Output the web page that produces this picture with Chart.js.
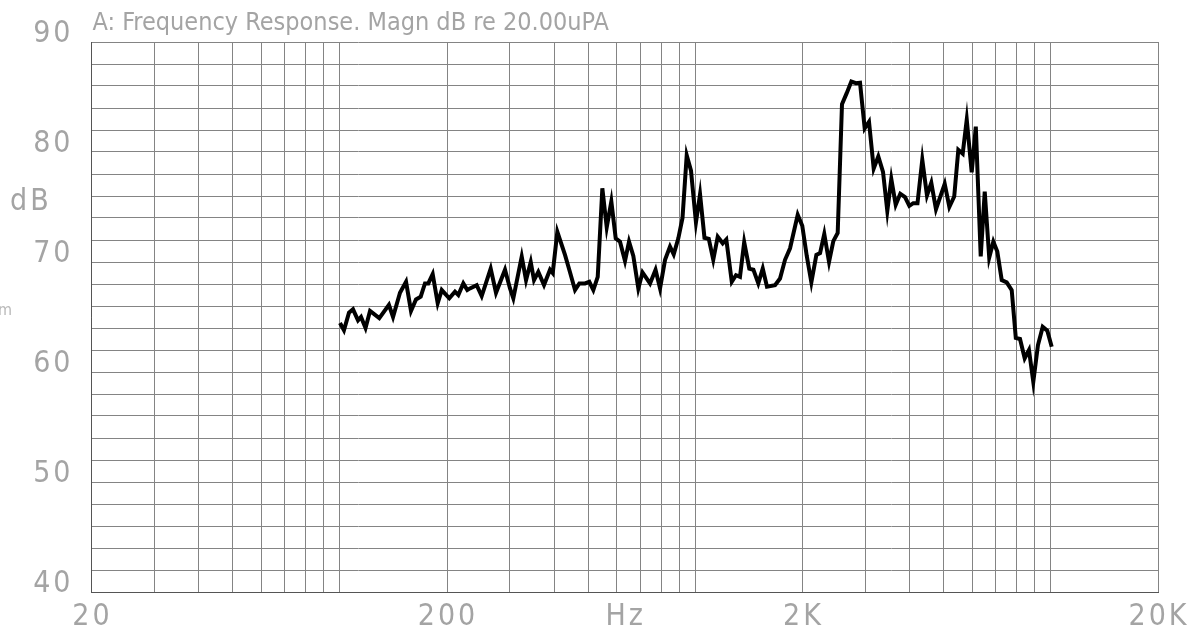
<!DOCTYPE html>
<html>
<head>
<meta charset="utf-8">
<script src="https://cdn.jsdelivr.net/npm/chart.js@4"></script>
<style>
  html, body { margin: 0; padding: 0; background: #fff; }
  canvas { display: block; }
</style>
</head>
<body>
<canvas id="myChart" width="1195" height="633"></canvas>
<script>

//------------------------------------------------------------------
// data (1/24 octave points, 100 Hz .. 10 kHz)

const freqHz = [
    100, 102.6, 106.0, 108.8, 112.4, 114.6, 118.0, 121.5, 129.0, 137.3,
    141.0, 147.5, 153.4, 158.4, 163.6, 168.7, 173.4, 177.2, 182.3, 188.3,
    193.3, 203.0, 210.6, 215.2, 222.3, 228.1, 232.1, 242.4, 250.4, 265.4,
    274.7, 291.2, 300.8, 307.3, 324.5, 333.7, 344.0, 351.4, 361.3, 374.9,
    389.8, 396.7, 408.7, 429.5, 441.6, 458.3, 471.3, 489.0, 502.8, 516.0,
    530.9, 547.0, 562.8, 579.8, 596.5, 613.3, 633.5, 650.2, 668.6, 690.6,
    709.6, 745.0, 772.1, 794.9, 821.1, 847.9, 868.5, 894.8, 919.4, 944.8,
    971.4, 1003, 1030, 1060, 1090, 1122, 1155, 1193, 1221, 1265,
    1300, 1334, 1371, 1417, 1455, 1502, 1546, 1589, 1674, 1729,
    1786, 1845, 1939, 1997, 2056, 2118, 2188, 2241, 2303, 2375,
    2442, 2512, 2583, 2663, 2744, 2828, 2903, 2992, 3077, 3172,
    3268, 3369, 3464, 3555, 3658, 3768, 3885, 3995, 4099, 4212,
    4345, 4479, 4606, 4748, 5024, 5177, 5343, 5487, 5645, 5795,
    5984, 6145, 6344, 6511, 6703, 6884, 7063, 7268, 7507, 7754,
    7962, 8182, 8434, 8672, 8917, 9192, 9478, 9765, 10046
];

const levelDb = [
    64.45, 63.8, 65.4, 65.7, 64.7, 65.0, 64.0, 65.55, 64.9, 66.1,
    65.0, 67.2, 68.2, 65.55, 66.6, 66.85, 68.05, 68.05, 68.9, 66.25,
    67.45, 66.7, 67.3, 67.0, 68.05, 67.45, 67.6, 67.9, 66.9, 69.4,
    67.2, 69.3, 67.6, 66.7, 70.5, 68.35, 70.0, 68.35, 69.1, 67.9,
    69.3, 69.0, 72.75, 70.65, 69.3, 67.45, 68.05, 68.05, 68.2, 67.45,
    68.65, 76.7, 73.15, 75.5, 72.15, 71.85, 70.1, 71.85, 70.55, 67.6,
    69.05, 68.05, 69.3, 67.6, 70.2, 71.4, 70.7, 72.15, 74.0, 79.7,
    78.3, 73.6, 76.15, 72.2, 72.1, 70.2, 72.3, 71.7, 72.05, 68.2,
    68.8, 68.65, 71.8, 69.4, 69.3, 68.05, 69.4, 67.75, 67.9, 68.5,
    70.2, 71.25, 74.3, 73.3, 70.55, 68.15, 70.65, 70.8, 72.55, 70.0,
    71.9, 72.65, 84.35, 85.35, 86.4, 86.25, 86.3, 82.15, 82.75, 78.5,
    79.6, 78.2, 74.65, 77.55, 75.2, 76.2, 75.9, 75.1, 75.35, 75.35,
    79.3, 76.05, 77.2, 74.8, 77.1, 75.0, 75.95, 80.2, 79.85, 82.95,
    78.15, 82.3, 70.5, 76.4, 70.4, 71.85, 70.95, 68.35, 68.15, 67.45,
    63.1, 63.0, 61.25, 62.0, 59.1, 62.45, 64.1, 63.75, 62.3
];

// grid lines of the log frequency axis
const xGridHz = [
    20, 30, 40, 50, 60, 70, 80, 90, 100,
    200, 300, 400, 500, 600, 700, 800, 900, 1000,
    2000, 3000, 4000, 5000, 6000, 7000, 8000, 9000, 10000,
    20000
];

// tick labels
const xTickHz = [20, 200, 2000, 20000];
const xTickText = ['20', '200', '2K', '20K'];
const xUnitHz = 632;
const xUnitText = 'Hz';

const yTickDb = [40, 50, 60, 70, 80, 90];
const yUnitText = 'dB';

const titleText = 'A: Frequency Response. Magn dB re 20.00uPA';

//------------------------------------------------------------------

const label_font = '"DejaVu Sans Condensed", "Liberation Sans Narrow", sans-serif';
const label_color = '#a4a4a4';

const plot_text = {
    id: 'plot_text',
    afterDraw(chart) {
        const c = chart.ctx;
        const area = chart.chartArea;
        const xs = chart.scales.x;
        const ys = chart.scales.y;

        c.save();
        c.fillStyle = label_color;

        // title
        c.font = '25px ' + label_font;
        c.textAlign = 'left';
        c.textBaseline = 'alphabetic';
        c.letterSpacing = '0px';
        c.fillText(titleText, area.left + 1, area.top - 12);

        // y labels, bottom on the grid line
        c.font = '30px ' + label_font;
        c.letterSpacing = '3px';
        c.textAlign = 'right';
        for (let i = 0; i < yTickDb.length; i++) {
            c.fillText(String(yTickDb[i]), area.left - 18, ys.getPixelForValue(yTickDb[i]));
        }
        c.textAlign = 'left';
        c.fillText(yUnitText, 10, ys.getPixelForValue(74.7));

        // x labels
        c.textAlign = 'center';
        const base = area.bottom + 33;
        for (let i = 0; i < xTickHz.length; i++) {
            c.fillText(xTickText[i], xs.getPixelForValue(xTickHz[i]) + 1, base);
        }
        c.fillText(xUnitText, xs.getPixelForValue(xUnitHz) + 1, base);

        // clipped mark at the left edge
        c.letterSpacing = '0px';
        c.font = '16px ' + label_font;
        c.textAlign = 'left';
        c.fillStyle = '#b8b8b8';
        c.fillText('m', -2, 315);

        c.restore();
    }
};

const ctx = document.getElementById('myChart');

const fr_chart = new Chart(ctx, {
    type: 'line',
    data: {
        datasets: [{
            label: 'Magn dB',
            data: freqHz.map((f, i) => ({ x: f, y: levelDb[i] })),
            borderColor: '#000',
            borderWidth: 4,
            pointRadius: 0,
            tension: 0,
            fill: false
        }]
    },
    options: {
        responsive: false,
        animation: false,
        devicePixelRatio: 1,
        layout: {
            padding: { left: 91.5, top: 42, right: 37, bottom: 41 }
        },
        plugins: {
            legend: { display: false },
            title: { display: false },
            tooltip: { enabled: false }
        },
        scales: {
            x: {
                type: 'logarithmic',
                min: 20,
                max: 20000,
                afterBuildTicks: (scale) => {
                    scale.ticks = xGridHz.map(v => ({ value: v }));
                },
                ticks: { display: false },
                grid: { color: '#848484', lineWidth: 1, drawTicks: false },
                border: { display: true, color: '#555', width: 1 }
            },
            y: {
                min: 40,
                max: 90,
                ticks: { display: false, stepSize: 2 },
                grid: { color: '#848484', lineWidth: 1, drawTicks: false },
                border: { display: true, color: '#555', width: 1 }
            }
        }
    },
    plugins: [plot_text]
});

</script>
</body>
</html>
